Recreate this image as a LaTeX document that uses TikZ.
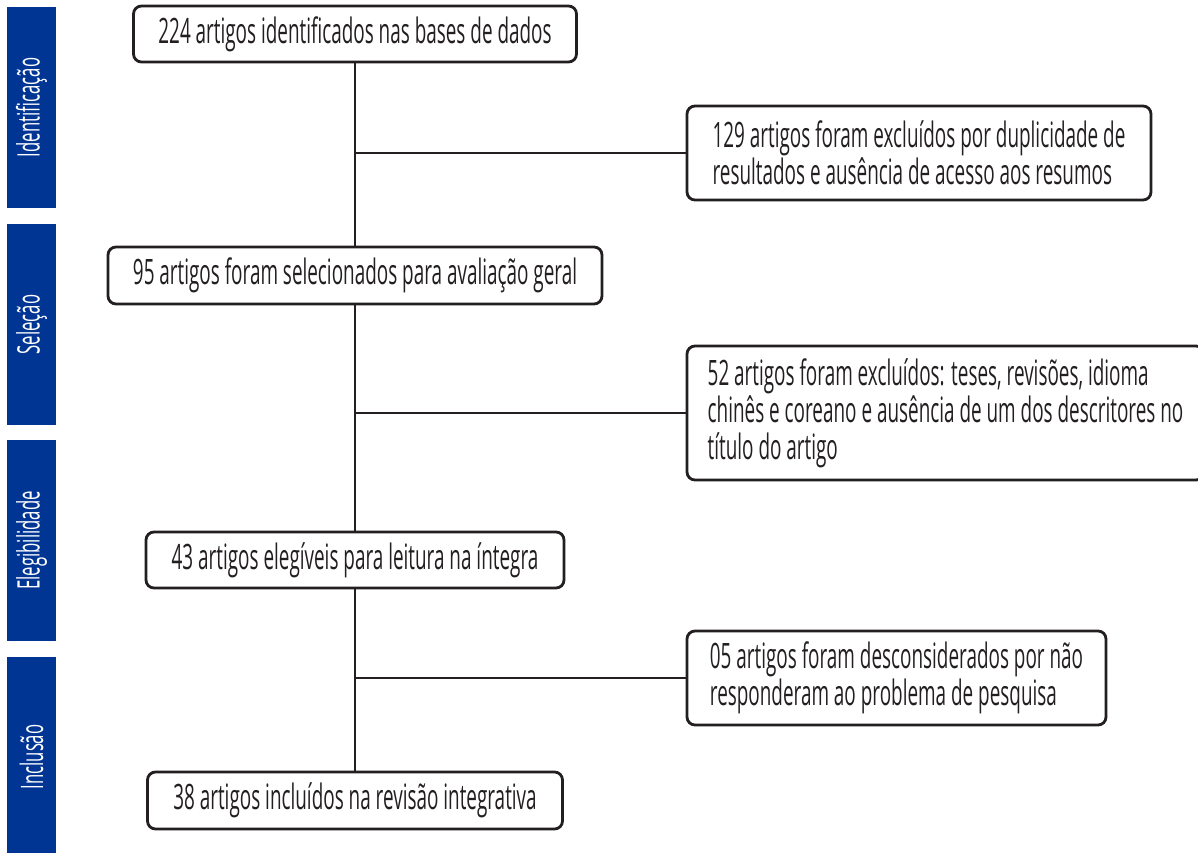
\documentclass[tikz,border=0pt]{standalone}
\usepackage{fontspec}
\setmainfont{Open Sans}[FakeStretch=0.54]
\definecolor{barblue}{RGB}{0,53,148}
\definecolor{ink}{RGB}{35,31,32}
\begin{document}
\begin{tikzpicture}[x=1pt,y=-1pt,
  box/.style={draw=ink,line width=2.8pt,rounded corners=8pt,inner sep=0pt,align=left,text=ink,font=\fontsize{35}{37}\selectfont},
  bar/.style={fill=barblue,draw=none,inner sep=0pt},
  bartext/.style={text=white,font=\fontsize{31}{34}\selectfont,rotate=90,inner sep=0pt},
  link/.style={draw=ink,line width=2.8pt}]
\useasboundingbox (0,0) rectangle (1198,853);
% phase bars
\node[bar,minimum width=49pt,minimum height=201pt] (p1) at (31.5,107.5) {};
\node[bartext] (t1) at (p1.center) {Identificação};
\node[bar,minimum width=49pt,minimum height=201pt] (p2) at (31.5,324.5) {};
\node[bartext] (t2) at (p2.center) {Seleção};
\node[bar,minimum width=49pt,minimum height=201pt] (p3) at (31.5,540.5) {};
\node[bartext] (t3) at (p3.center) {Elegibilidade};
\node[bar,minimum width=49pt,minimum height=200pt] (p4) at (31.5,757) {};
\node[bartext] (t4) at (p4.center) {Inclusão};
% main boxes
\node[box,minimum width=443pt,minimum height=56pt] (b1) at (355,34) {224 artigos identificados nas bases de dados};
\node[box,minimum width=494pt,minimum height=57pt] (b3) at (355,275.5) {95 artigos foram selecionados para avaliação geral};
\node[box,minimum width=418pt,minimum height=56pt] (b5) at (355,560) {43 artigos elegíveis para leitura na íntegra};
\node[box,minimum width=415pt,minimum height=57pt] (b7) at (355,800.5) {38 artigos incluídos na revisão integrativa};
% side boxes
\node[box,minimum width=464pt,minimum height=94pt] (b2) at (919,153) {129 artigos foram excluídos por duplicidade de\\resultados e ausência de acesso aos resumos};
\node[box,minimum width=517pt,minimum height=134pt] (b4) at (945.5,413) {52 artigos foram excluídos: teses, revisões, idioma\\chinês e coreano e ausência de um dos descritores no\\título do artigo};
\node[box,minimum width=419pt,minimum height=94pt] (b6) at (896.5,678) {05 artigos foram desconsiderados por não\\responderam ao problema de pesquisa};
% connectors
\draw[link] (b1.south) -- (b3.north);
\draw[link] (b3.south) -- (b5.north);
\draw[link] (b5.south) -- (b7.north);
\draw[link] (b1.south |- b2.west) -- (b2.west);
\draw[link] (b3.south |- b4.west) -- (b4.west);
\draw[link] (b5.south |- b6.west) -- (b6.west);
\end{tikzpicture}
\end{document}
